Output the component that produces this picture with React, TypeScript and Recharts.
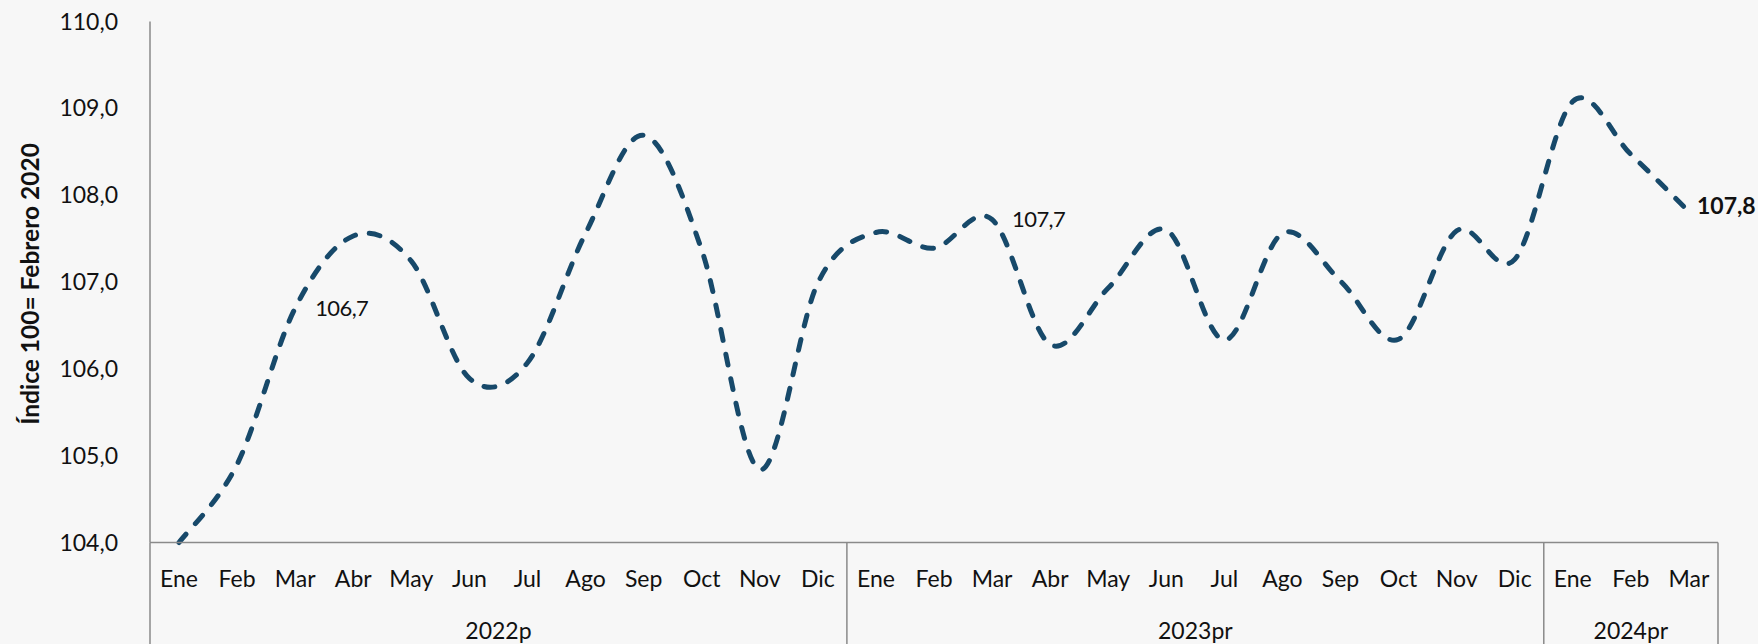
import React from 'react';
import { LineChart, Line, XAxis, YAxis, LabelList } from 'recharts';

// ---------- data ----------
const years = ['2022p', '2023pr', '2024pr'];
const monthsPerYear = [12, 12, 3];
const monthNames = ['Ene', 'Feb', 'Mar', 'Abr', 'May', 'Jun', 'Jul', 'Ago', 'Sep', 'Oct', 'Nov', 'Dic'];
const values = [
  104.0, 104.9, 106.7, 107.53, 107.24, 105.89, 106.07, 107.56, 108.69, 107.37, 104.84, 106.99,
  107.57, 107.39, 107.72, 106.28, 106.93, 107.6, 106.33, 107.56, 107.01, 106.34, 107.59, 107.26,
  109.08, 108.47, 107.81,
];
const yTicks = [104, 105, 106, 107, 108, 109, 110];
const labeledIdx = [2, 14, 26];
const boldLabelIdx = [26];
const yTitle = 'Índice 100= Febrero 2020';

// ---------- derived ----------
type Row = { key: string; month: string; pos: number; value: number };
const data: Row[] = [];
years.forEach((yr, yi) => {
  for (let m = 0; m < monthsPerYear[yi]; m++) {
    const i = data.length;
    data.push({ key: `${monthNames[m]} ${yr}`, month: monthNames[m], pos: i + 0.5, value: values[i] });
  }
});
const boundaries: number[] = [0];
monthsPerYear.forEach((n) => boundaries.push(boundaries[boundaries.length - 1] + n));
const yearCenters = years.map((_, i) => (boundaries[i] + boundaries[i + 1]) / 2);
const groupTicks = [...boundaries, ...yearCenters];

const fmt = (v: number) => v.toFixed(1).replace('.', ',');

// ---------- style ----------
const FONT = 'Lato, "Noto Sans", sans-serif';
const AXIS_COLOR = '#8a8a8a';
const LINE_COLOR = '#17496a';
const TEXT_COLOR = '#111111';
const MONTH_AXIS_H = 55;
const GROUP_AXIS_H = 46.5;

// Excel-like smoothing (Catmull-Rom as cubic Bezier)
const excelSmooth: any = (context: any) => {
  let pts: number[][] = [];
  return {
    areaStart() {},
    areaEnd() {},
    lineStart() {
      pts = [];
    },
    point(x: number, y: number) {
      pts.push([+x, +y]);
    },
    lineEnd() {
      const n = pts.length;
      if (!n) return;
      context.moveTo(pts[0][0], pts[0][1]);
      for (let i = 0; i < n - 1; i++) {
        const p0 = pts[Math.max(i - 1, 0)];
        const p1 = pts[i];
        const p2 = pts[i + 1];
        const p3 = pts[Math.min(i + 2, n - 1)];
        context.bezierCurveTo(
          p1[0] + (p2[0] - p0[0]) / 6,
          p1[1] + (p2[1] - p0[1]) / 6,
          p2[0] - (p3[0] - p1[0]) / 6,
          p2[1] - (p3[1] - p1[1]) / 6,
          p2[0],
          p2[1]
        );
      }
    },
  };
};

const MonthTick = (props: any) => {
  const { x, y, payload } = props;
  const row = data.find((d) => d.key === payload.value);
  return (
    <text x={x} y={y + 44} textAnchor="middle" fontFamily={FONT} fontSize={23} fill={TEXT_COLOR}>
      {row ? row.month : ''}
    </text>
  );
};

const GroupTick = (props: any) => {
  const { x, y, payload } = props;
  const v = payload.value;
  const bi = boundaries.indexOf(v);
  if (bi >= 0) {
    return <line x1={x} x2={x} y1={y - MONTH_AXIS_H} y2={y + GROUP_AXIS_H + 10} stroke={AXIS_COLOR} strokeWidth={1.5} />;
  }
  const ci = yearCenters.indexOf(v);
  return (
    <text x={x} y={y + 41} textAnchor="middle" fontFamily={FONT} fontSize={23} fill={TEXT_COLOR}>
      {years[ci]}
    </text>
  );
};

const YTick = (props: any) => {
  const { x, y, payload } = props;
  return (
    <text x={x} y={y + 8} textAnchor="end" fontFamily={FONT} fontSize={23} fill={TEXT_COLOR}>
      {fmt(payload.value)}
    </text>
  );
};

const YTitle = (props: any) => {
  const vb = props.viewBox || {};
  const cx = (vb.x || 0) + 29;
  const cy = (vb.y || 0) + (vb.height || 0) / 2 + 2;
  return (
    <text
      x={cx}
      y={cy}
      transform={`rotate(-90 ${cx} ${cy})`}
      textAnchor="middle"
      dominantBaseline="central"
      fontFamily={FONT}
      fontWeight={700}
      fontSize={24.5}
      fill={TEXT_COLOR}
    >
      {yTitle}
    </text>
  );
};

const PointLabel = (props: any) => {
  const { x, y, index, value } = props;
  if (!labeledIdx.includes(index)) return null;
  const bold = boldLabelIdx.includes(index);
  const fs = bold ? 23 : 22;
  return (
    <text
      x={x + (bold ? 8 : 20)}
      y={y + (bold ? -6 : 0) + 0.36 * fs}
      textAnchor="start"
      fontFamily={FONT}
      fontSize={fs}
      fontWeight={bold ? 700 : 400}
      letterSpacing={bold ? 0 : -0.6}
      fill={TEXT_COLOR}
    >
      {fmt(value)}
    </text>
  );
};

export default function App() {
  return (
    <div style={{ position: 'absolute', left: 0, top: 0, width: 1758, height: 644, background: '#f7f7f7', overflow: 'hidden' }}>
      <LineChart width={1758} height={644} data={data} margin={{ top: 21.5, right: 40, bottom: 0, left: 0 }}>
        <XAxis
          xAxisId="b"
          dataKey="pos"
          type="number"
          domain={[boundaries[0], boundaries[boundaries.length - 1]]}
          allowDataOverflow
          ticks={groupTicks}
          interval={0}
          height={GROUP_AXIS_H}
          tickLine={false}
          tickSize={0}
          tickMargin={0}
          axisLine={false}
          tick={<GroupTick />}
        />
        <XAxis
          xAxisId="a"
          dataKey="key"
          type="category"
          scale="band"
          height={MONTH_AXIS_H}
          interval={0}
          tickLine={false}
          tickSize={0}
          tickMargin={0}
          axisLine={{ stroke: AXIS_COLOR, strokeWidth: 1.5 }}
          tick={<MonthTick />}
        />
        <YAxis
          type="number"
          domain={[yTicks[0], yTicks[yTicks.length - 1]]}
          ticks={yTicks}
          interval={0}
          width={150}
          tickLine={false}
          tickSize={0}
          tickMargin={32}
          axisLine={{ stroke: AXIS_COLOR, strokeWidth: 1.5 }}
          tick={<YTick />}
          label={<YTitle />}
        />
        <Line
          xAxisId="a"
          dataKey="value"
          type={excelSmooth}
          stroke={LINE_COLOR}
          strokeWidth={5}
          strokeDasharray="11 14"
          strokeLinecap="round"
          dot={false}
          activeDot={false}
          isAnimationActive={false}
        >
          <LabelList dataKey="value" content={<PointLabel />} />
        </Line>
      </LineChart>
    </div>
  );
}
